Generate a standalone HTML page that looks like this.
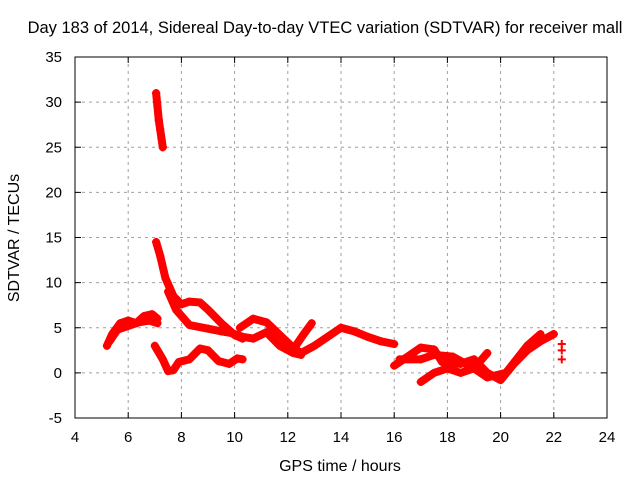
<!DOCTYPE html>
<html><head><meta charset="utf-8"><style>
body{margin:0;background:#fff}
svg text{font-family:"Liberation Sans",sans-serif;font-size:15px;fill:#000}
</style></head><body>
<svg id="chart" width="640" height="480" xmlns="http://www.w3.org/2000/svg">
<rect width="640" height="480" fill="#fff"/>
<text x="325" y="33" text-anchor="middle" style="font-size:16.5px">Day 183 of 2014, Sidereal Day-to-day VTEC variation (SDTVAR) for receiver mall</text>
<g id="grid"></g>
<g id="axes"></g>
<g id="series"></g>
<text x="340" y="471" text-anchor="middle" style="font-size:16px">GPS time / hours</text>
<text transform="translate(19,238) rotate(-90)" text-anchor="middle" style="font-size:16px">SDTVAR / TECUs</text>
<rect x="75" y="57" width="532" height="361" fill="none" stroke="#000" stroke-width="1"/>
</svg>
<script>
const xTicks=[4,6,8,10,12,14,16,18,20,22,24];
const yTicks=[-5,0,5,10,15,20,25,30,35];
const traceA_h=[5.2,5.4,5.7,6.0,6.3,6.6,6.9,7.1];
const traceA_v=[3.0,4.3,5.5,5.8,5.5,6.3,6.5,6.0];
const traceB_h=[5.3,5.6,6.0,6.4,6.8,7.1];
const traceB_v=[3.5,4.8,5.2,5.6,5.8,5.5];
const traceC_h=[7.05,7.1,7.15,7.2,7.25,7.3];
const traceC_v=[31,29.5,28,27,26,25];
const traceD_h=[7.05,7.2,7.4,7.7,8.0,8.3,8.7,9.0,9.5,10.0,10.3];
const traceD_v=[14.5,13,10.5,8.5,7.6,7.9,7.8,7.0,5.5,4.2,3.8];
const traceE_h=[7.5,7.8,8.3,9.0,9.5,9.9,10.3,10.7,11.2,11.7,12.2,12.5];
const traceE_v=[9.0,7.0,5.3,4.9,4.6,4.4,4.0,3.8,4.5,3.0,2.2,2.0];
const traceF_h=[10.2,10.7,11.2,11.7,12.2,12.5,13.0,13.5,14.0,14.5,15.0,15.5,16.0];
const traceF_v=[5.0,6.0,5.6,4.2,2.8,2.2,3.0,4.0,5.0,4.6,4.0,3.5,3.2];
const traceG_h=[12.3,12.6,12.9];
const traceG_v=[3.0,4.3,5.5];
const traceH_h=[7.0,7.3,7.5,7.7,7.9,8.3,8.7,9.0,9.4,9.8,10.1,10.3];
const traceH_v=[3.0,1.5,0.2,0.3,1.2,1.5,2.7,2.5,1.3,1.0,1.6,1.5];
const traceI_h=[16.0,16.5,17.0,17.5,17.8,18.5,19.0,19.5,20.0,20.5,21.0,21.5,22.0];
const traceI_v=[0.8,1.8,2.8,2.6,1.2,1.0,1.5,0.0,-0.8,1.0,2.5,3.5,4.3];
const traceJ_h=[17.0,17.5,18.0,18.5,19.0,19.5];
const traceJ_v=[-1.0,0.0,0.5,0.0,0.5,2.2];
const traceK_h=[16.2,17.0,17.5,18.2,19.0,19.5,20.2,21.0,21.5];
const traceK_v=[1.5,1.5,2.0,1.8,0.5,-0.5,0.0,3.0,4.3];
const traceL_h=[22.3,22.3,22.3];
const traceL_v=[3.2,2.5,1.5];
const traces=[[traceA_h,traceA_v],[traceB_h,traceB_v],[traceC_h,traceC_v],[traceD_h,traceD_v],[traceE_h,traceE_v],[traceF_h,traceF_v],[traceG_h,traceG_v],[traceH_h,traceH_v],[traceI_h,traceI_v],[traceJ_h,traceJ_v],[traceK_h,traceK_v]];
const X0=75,X1=607,Y0=418,Y1=57;
function xs(h){return X0+(h-4)/20*(X1-X0);}
function ys(v){return Y0-(v+5)/40*(Y0-Y1);}
const NS="http://www.w3.org/2000/svg";
const grid=document.getElementById('grid'),axes=document.getElementById('axes'),ser=document.getElementById('series');
function mk(t,a,p){const e=document.createElementNS(NS,t);for(const k in a)e.setAttribute(k,a[k]);p.appendChild(e);return e;}
xTicks.forEach(t=>{const x=xs(t);
 if(t>4&&t<24){const g=mk('line',{x1:x,x2:x,y1:Y1,y2:Y0,stroke:'#a0a0a0','stroke-dasharray':'3,4'},grid);
 
 }
 const tk=mk('line',{x1:x,x2:x,y1:Y0,y2:Y0-6,stroke:'#000'},axes);
 
 
 const tk2=mk('line',{x1:x,x2:x,y1:Y1,y2:Y1+6,stroke:'#000'},axes);
 
 
 const l=mk('text',{x:x,y:442,'text-anchor':'middle'},axes);l.textContent=t;
 
 });
yTicks.forEach(t=>{const y=ys(t);
 if(t>-5&&t<35){const g=mk('line',{x1:X0,x2:X1,y1:y,y2:y,stroke:'#a0a0a0','stroke-dasharray':'3,4'},grid);
 
 }
 const tk=mk('line',{x1:X0,x2:X0+6,y1:y,y2:y,stroke:'#000'},axes);
 
 
 const tk2=mk('line',{x1:X1,x2:X1-6,y1:y,y2:y,stroke:'#000'},axes);
 
 
 const l=mk('text',{x:62,y:y+5,'text-anchor':'end'},axes);l.textContent=t;
 
 });
function marker(h,v){const x=xs(h),y=ys(v);
 const p=mk('path',{d:`M${x-4} ${y}H${x+4}M${x} ${y-4}V${y+4}`,stroke:'#ff0000','stroke-width':2},ser);
 
 }
traces.forEach(([H,V])=>{
 const pts=H.map((h,i)=>xs(h)+','+ys(V[i])).join(' ');
 const pl=mk('polyline',{points:pts,fill:'none',stroke:'#ff0000','stroke-width':8,'stroke-linejoin':'round','stroke-linecap':'round'},ser);
 
 
 H.forEach((h,i)=>marker(h,V[i]));});
traceC_h.forEach((h,i)=>marker(h,traceC_v[i]));
traceL_h.forEach((h,i)=>marker(h,traceL_v[i]));
</script>
</body></html>
